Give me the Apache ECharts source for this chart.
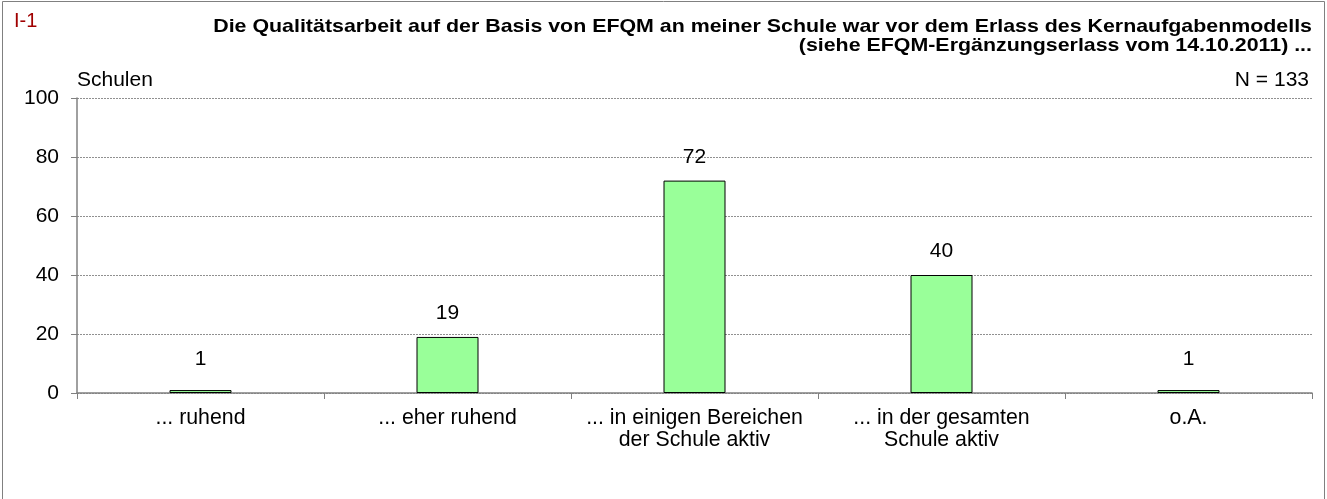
<!DOCTYPE html>
<html><head><meta charset="utf-8">
<script src="https://cdn.jsdelivr.net/npm/echarts@6/dist/echarts.min.js"></script>
<style>html,body{margin:0;padding:0;background:#fff}#c{width:1327px;height:499px}</style>
</head><body><div id="c"></div>
<script>
const categories = ['... ruhend', '... eher ruhend', '... in einigen Bereichen\nder Schule aktiv', '... in der gesamten\nSchule aktiv', 'o.A.'];
const values = [1, 19, 72, 40, 1];
const yTicks = [0, 20, 40, 60, 80, 100];
const titleLines = ['Die Qualitätsarbeit auf der Basis von EFQM an meiner Schule war vor dem Erlass des Kernaufgabenmodells', '(siehe EFQM-Ergänzungserlass vom 14.10.2011) ...'];
const chartId = 'I-1';
const yName = 'Schulen';
const nText = 'N = 133';

const FONT = '"Liberation Sans", Arial, sans-serif';
const chart = echarts.init(document.getElementById('c'), null, {renderer: 'canvas'});
const titleY = [26.5, 46];
chart.setOption({
  animation: false,
  backgroundColor: '#fff',
  textStyle: {fontFamily: FONT},
  grid: {left: 77, right: 15, top: 98, bottom: 106, containLabel: false},
  graphic: [
    {type: 'rect', shape: {x: 2.5, y: 1.5, width: 1322, height: 520}, style: {fill: 'none', stroke: '#808080', lineWidth: 1}, silent: true},
    {type: 'text', x: 14, y: 21, style: {text: chartId, fill: '#A00000', font: '20px ' + FONT, verticalAlign: 'middle'}},
    ...titleLines.map((t, i) => ({type: 'text', x: 1312, y: titleY[i], scaleX: 1.125,
      style: {text: t, fill: '#000', font: 'bold 19px ' + FONT, align: 'right', verticalAlign: 'middle'}})),
    {type: 'text', x: 77, y: 80, style: {text: yName, fill: '#000', font: '21px ' + FONT, verticalAlign: 'middle'}},
    {type: 'text', x: 1309, y: 80, style: {text: nText, fill: '#000', font: '21px ' + FONT, align: 'right', verticalAlign: 'middle'}}
  ],
  xAxis: {
    type: 'category',
    data: categories,
    axisLine: {lineStyle: {color: '#808080', width: 1.5}},
    axisTick: {show: true, length: 6, lineStyle: {color: '#808080'}},
    axisLabel: {color: '#000', fontSize: 21.3, fontFamily: FONT, margin: 14, lineHeight: 22, interval: 0}
  },
  yAxis: {
    type: 'value',
    min: 0, max: 100, interval: 20,
    axisLine: {show: true, lineStyle: {color: '#808080', width: 1.5}},
    axisTick: {show: true, length: 6, lineStyle: {color: '#808080'}},
    axisLabel: {color: '#000', fontSize: 21, fontFamily: FONT, margin: 18,
      formatter: v => yTicks.includes(v) ? String(v) : ''},
    splitLine: {show: true, lineStyle: {color: '#909090', type: [2, 1], width: 1}}
  },
  series: [{
    type: 'bar',
    data: values.map(v => ({value: v, label: {distance: v < 5 ? 20 : 13}})),
    barWidth: 62,
    itemStyle: {color: '#99FF99', borderColor: '#000', borderWidth: 1},
    label: {show: true, position: 'top', color: '#000', fontSize: 21, fontFamily: FONT}
  }]
});
</script></body></html>
